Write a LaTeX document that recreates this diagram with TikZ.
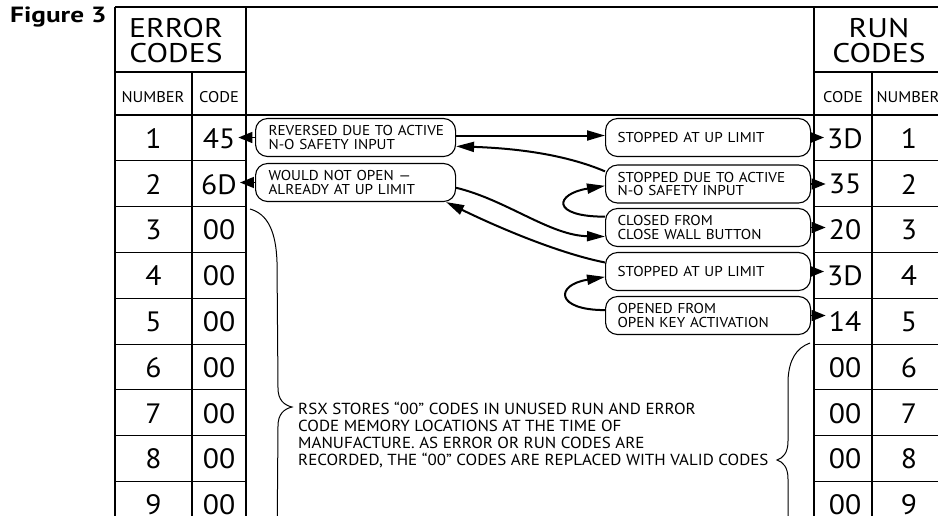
\documentclass[tikz,border=0pt]{standalone}
\usepackage{fontspec}
\setmainfont[FakeStretch=1.06]{PT Sans}
\newfontfamily\hdrfont[FakeStretch=1.17]{PT Sans}
\newfontfamily\titlefont[FakeStretch=1.24]{PT Sans Bold}
\usetikzlibrary{arrows.meta}
\begin{document}
\begin{tikzpicture}[x=1pt,y=-1pt,
  tl/.style={line width=1.2pt},
  rl/.style={line width=1pt},
  cbox/.style={draw, line width=1.1pt, rounded corners=12pt, minimum height=38pt,
    inner ysep=0pt, align=left, anchor=west, font=\fontsize{14.3}{13.2}\selectfont},
  lbox/.style={cbox, text width=174pt, inner xsep=13pt},
  rbox/.style={cbox, text width=181pt, inner xsep=12pt},
  num/.style={font=\fontsize{28}{28}\selectfont, inner sep=3pt},
  hdr/.style={font=\hdrfont\fontsize{27}{25}\selectfont, align=center, inner sep=0pt},
  sub/.style={font=\fontsize{15.5}{16}\selectfont, inner sep=0pt},
  flow/.style={line width=2pt, -{Triangle[length=18pt,width=10pt]}},
  codearrow/.style={line width=1.5pt, -{Triangle[length=14pt,width=11pt]}},
  brace/.style={line width=1pt},
  note/.style={font=\fontsize{16}{17}\selectfont, align=left, inner sep=0pt, anchor=west}
]
\useasboundingbox (0,0) rectangle (938,515);
\clip (0,0) rectangle (938,515);

% title
\node[anchor=base west, inner sep=0pt] (title) at (10,22.5) {\titlefont\fontsize{22}{22}\selectfont Figure 3};

% table frame
\draw[tl] (115,7) -- (950,7);
\draw[tl] (115,7) -- (115,540);
\draw[tl] (246,7) -- (246,540);
\draw[tl] (814,7) -- (814,540);
\draw[tl] (945,7) -- (945,540);
\draw[tl] (115,72) -- (246,72);
\draw[tl] (814,72) -- (950,72);
\draw[tl] (192,72) -- (192,540);
\draw[tl] (872,72) -- (872,540);
\draw[tl] (115,115) -- (950,115);
\foreach \k in {1,...,8}{
  \draw[rl] (115,115+45.8*\k) -- (246,115+45.8*\k);
  \draw[rl] (814,115+45.8*\k) -- (950,115+45.8*\k);
}

% headers
\node[hdr] (eh) at (176,40.5) {ERROR\\CODES};
\node[hdr] (rh) at (879,40.5) {RUN\\CODES};
\node[sub] (enh) at (153,97.5) {NUMBER};
\node[sub] (ech) at (219,97.5) {CODE};
\node[sub] (rch) at (843,97.5) {CODE};
\node[sub] (rnh) at (908,97.5) {NUMBER};

% row contents
\foreach \i/\ec/\rc in {1/45/3D,2/6D/35,3/00/20,4/00/3D,5/00/14,6/00/00,7/00/00,8/00/00,9/00/00}{
  \node[num] (en\i) at (153.5,138.5+45.8*\i-45.8) {\i};
  \node[num] (ec\i) at (219,138.5+45.8*\i-45.8) {\ec};
  \node[num] (rc\i) at (845,138.5+45.8*\i-45.8) {\rc};
  \node[num] (rn\i) at (909,138.5+45.8*\i-45.8) {\i};
}

% boxes
\node[lbox] (L1) at (255,137.5) {\mbox{REVERSED DUE TO ACTIVE}\\\mbox{N-O SAFETY INPUT}};
\node[lbox] (L2) at (255,182.5) {\mbox{WOULD NOT OPEN —}\\\mbox{ALREADY AT UP LIMIT}};
\node[rbox] (R1) at (605,137.5) {\mbox{STOPPED AT UP LIMIT}};
\node[rbox] (R2) at (605,184) {\mbox{STOPPED DUE TO ACTIVE}\\\mbox{N-O SAFETY INPUT}};
\node[rbox] (R3) at (605,227.5) {\mbox{CLOSED FROM}\\\mbox{CLOSE WALL BUTTON}};
\node[rbox] (R4) at (605,271.5) {\mbox{STOPPED AT UP LIMIT}};
\node[rbox] (R5) at (605,315.5) {\mbox{OPENED FROM}\\\mbox{OPEN KEY ACTIVATION}};

% box to code arrows
\draw[codearrow] (L1.west) -- (L1.west -| ec1.east);
\draw[codearrow] (L2.west) -- (L2.west -| ec2.east);
\draw[codearrow] (R1.east) -- (R1.east -| rc1.west);
\draw[codearrow] (R2.east) -- (R2.east -| rc2.west);
\draw[codearrow] (R3.east) -- (R3.east -| rc3.west);
\draw[codearrow] (R4.east) -- (R4.east -| rc4.west);
\draw[codearrow] (R5.east) -- (R5.east -| rc5.west);

% flow arrows
\draw[flow] ([yshift=2pt]L1.east) -- ([yshift=2pt]L1.east -| R1.west);
\draw[flow] (R2.173) .. controls +(-40,-17) and +(60,2) .. (L1.-5);
\draw[flow] (L2.-3) .. controls +(50,12) and +(-55,-1) .. (R3.185);
\draw[flow] (R4.175) .. controls +(-50,-10) and +(45,22) .. ([xshift=-10pt]L2.south east);
\draw[flow] (R3.174) .. controls +(-55,0) and +(-50,8) .. (R2.181);
\draw[flow] (R5.177.3) .. controls +(-50,0) and +(-50,8) .. (R4.183);

% braces
\draw[brace] (250,209) .. controls (268,214) and (276,232) .. (277,262)
  -- (278,388) .. controls (278,400) and (284,405) .. (292,407)
  .. controls (284,409) and (278,414) .. (278,426)
  -- (277,552) .. controls (276,582) and (268,600) .. (250,605);
\draw[brace] (810,343) .. controls (796,348) and (789,360) .. (788,380)
  -- (788,441) .. controls (788,453) and (783,458) .. (777,460)
  .. controls (783,462) and (788,467) .. (788,479)
  -- (788,540) .. controls (789,560) and (796,572) .. (810,577);

% note
\node[note] (note) at (298,434.5) {RSX STORES “00” CODES IN UNUSED RUN AND ERROR\\CODE MEMORY LOCATIONS AT THE TIME OF\\MANUFACTURE. AS ERROR OR RUN CODES ARE\\RECORDED, THE “00” CODES ARE REPLACED WITH VALID CODES};
\end{tikzpicture}
\end{document}
